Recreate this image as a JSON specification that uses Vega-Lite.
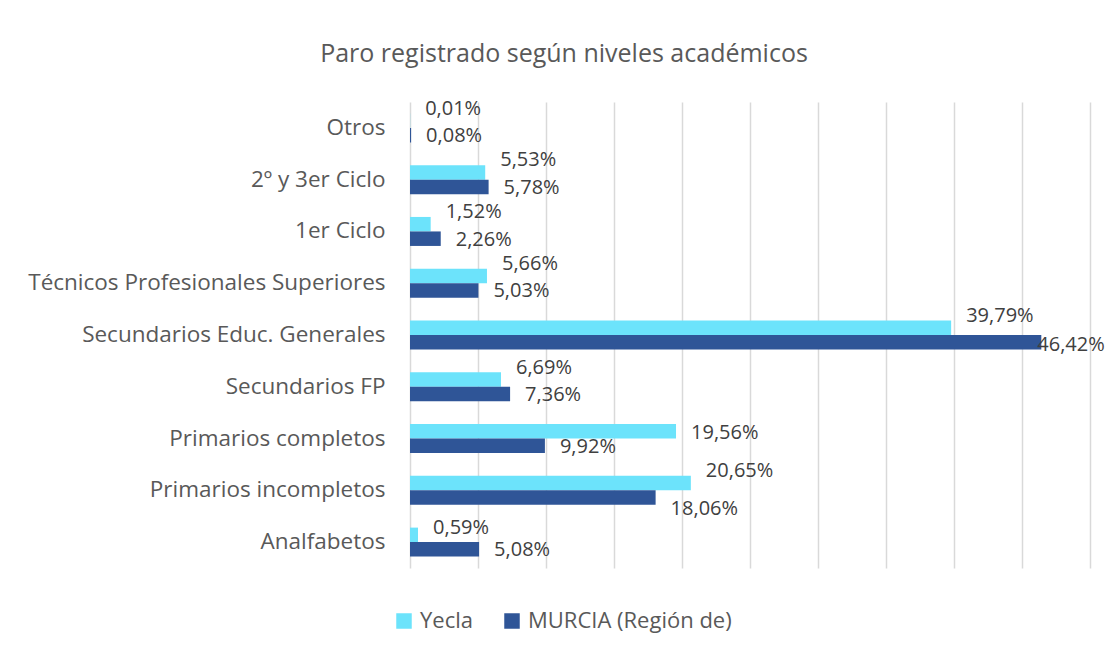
{
  "$schema": "https://vega.github.io/schema/vega-lite/v6.json",
  "width": 680,
  "height": 466,
  "autosize": {"type": "none"},
  "padding": {"left": 410, "top": 102, "right": 17, "bottom": 85},
  "background": "white",
  "config": {
    "locale": {"number": {"decimal": ",", "thousands": ".", "grouping": [3], "currency": ["", " €"]}},
    "font": "Open Sans",
    "view": {"stroke": null}
  },
  "title": {
    "text": "Paro registrado según niveles académicos",
    "fontSize": 25,
    "fontWeight": "normal",
    "color": "#595959",
    "font": "Open Sans",
    "anchor": "middle",
    "frame": "group",
    "dx": -186,
    "offset": 32
  },
  "data": {
    "values": [
      {"nivel": "Otros", "serie": "Yecla", "valor": 0.0001},
      {"nivel": "Otros", "serie": "MURCIA (Región de)", "valor": 0.0008},
      {"nivel": "2º y 3er Ciclo", "serie": "Yecla", "valor": 0.0553},
      {"nivel": "2º y 3er Ciclo", "serie": "MURCIA (Región de)", "valor": 0.0578},
      {"nivel": "1er Ciclo", "serie": "Yecla", "valor": 0.0152},
      {"nivel": "1er Ciclo", "serie": "MURCIA (Región de)", "valor": 0.0226},
      {"nivel": "Técnicos Profesionales Superiores", "serie": "Yecla", "valor": 0.0566},
      {"nivel": "Técnicos Profesionales Superiores", "serie": "MURCIA (Región de)", "valor": 0.0503},
      {"nivel": "Secundarios Educ. Generales", "serie": "Yecla", "valor": 0.3979},
      {"nivel": "Secundarios Educ. Generales", "serie": "MURCIA (Región de)", "valor": 0.4642},
      {"nivel": "Secundarios FP", "serie": "Yecla", "valor": 0.0669},
      {"nivel": "Secundarios FP", "serie": "MURCIA (Región de)", "valor": 0.0736},
      {"nivel": "Primarios completos", "serie": "Yecla", "valor": 0.1956},
      {"nivel": "Primarios completos", "serie": "MURCIA (Región de)", "valor": 0.0992},
      {"nivel": "Primarios incompletos", "serie": "Yecla", "valor": 0.2065},
      {"nivel": "Primarios incompletos", "serie": "MURCIA (Región de)", "valor": 0.1806},
      {"nivel": "Analfabetos", "serie": "Yecla", "valor": 0.0059},
      {"nivel": "Analfabetos", "serie": "MURCIA (Región de)", "valor": 0.0508}
    ]
  },
  "encoding": {
    "y": {
      "field": "nivel",
      "type": "nominal",
      "sort": ["Otros", "2º y 3er Ciclo", "1er Ciclo", "Técnicos Profesionales Superiores", "Secundarios Educ. Generales", "Secundarios FP", "Primarios completos", "Primarios incompletos", "Analfabetos"],
      "scale": {"paddingInner": 0.44, "paddingOuter": 0.22},
      "axis": {"title": null, "domain": false, "ticks": false, "grid": false, "labelPadding": 25, "labelFontSize": 22.5, "labelLimit": 0, "labelColor": "#595959", "labelFont": "Open Sans"}
    },
    "yOffset": {"field": "serie", "type": "nominal", "sort": ["Yecla", "MURCIA (Región de)"]},
    "x": {
      "field": "valor",
      "type": "quantitative",
      "scale": {"domain": [0, 0.5], "nice": false, "zero": true},
      "axis": {"title": null, "labels": false, "ticks": false, "domain": false, "values": [0, 0.05, 0.1, 0.15, 0.2, 0.25, 0.3, 0.35, 0.4, 0.45, 0.5], "gridColor": "#D9D9D9", "gridWidth": 1.5}
    }
  },
  "layer": [
    {
      "mark": {"type": "bar"},
      "encoding": {
        "color": {
          "field": "serie",
          "type": "nominal",
          "sort": ["Yecla", "MURCIA (Región de)"],
          "scale": {"domain": ["Yecla", "MURCIA (Región de)"], "range": ["#6CE3FB", "#2F5597"]},
          "legend": {
            "title": null,
            "orient": "none",
            "legendX": -17,
            "legendY": 508,
            "direction": "horizontal",
            "symbolType": "square",
            "symbolSize": 240,
            "symbolStrokeWidth": 0,
            "labelFontSize": 22,
            "labelLimit": 0,
            "labelColor": "#595959",
            "labelFont": "Open Sans",
            "columnPadding": 28,
            "labelOffset": 5
          }
        }
      }
    },
    {
      "transform": [{"filter": "datum.serie == 'Yecla' && datum.nivel != 'Primarios completos' && datum.nivel != 'Analfabetos'"}],
      "mark": {"type": "text", "align": "left", "baseline": "middle", "dx": 15, "dy": -12, "fontSize": 20, "color": "#404040", "font": "Open Sans"},
      "encoding": {"text": {"field": "valor", "type": "quantitative", "format": ".2%"}}
    },
    {
      "transform": [{"filter": "datum.serie == 'Yecla' && datum.nivel == 'Primarios completos'"}],
      "mark": {"type": "text", "align": "left", "baseline": "middle", "dx": 15, "dy": 2, "fontSize": 20, "color": "#404040", "font": "Open Sans"},
      "encoding": {"text": {"field": "valor", "type": "quantitative", "format": ".2%"}}
    },
    {
      "transform": [{"filter": "datum.serie == 'Yecla' && datum.nivel == 'Analfabetos'"}],
      "mark": {"type": "text", "align": "left", "baseline": "middle", "dx": 15, "dy": -7, "fontSize": 20, "color": "#404040", "font": "Open Sans"},
      "encoding": {"text": {"field": "valor", "type": "quantitative", "format": ".2%"}}
    },
    {
      "transform": [{"filter": "datum.serie != 'Yecla' && datum.nivel != 'Primarios incompletos' && datum.nivel != 'Secundarios Educ. Generales'"}],
      "mark": {"type": "text", "align": "left", "baseline": "middle", "dx": 15, "dy": 1, "fontSize": 20, "color": "#404040", "font": "Open Sans"},
      "encoding": {"text": {"field": "valor", "type": "quantitative", "format": ".2%"}}
    },
    {
      "transform": [{"filter": "datum.serie != 'Yecla' && datum.nivel == 'Primarios incompletos'"}],
      "mark": {"type": "text", "align": "left", "baseline": "middle", "dx": 15, "dy": 11, "fontSize": 20, "color": "#404040", "font": "Open Sans"},
      "encoding": {"text": {"field": "valor", "type": "quantitative", "format": ".2%"}}
    },
    {
      "transform": [{"filter": "datum.serie != 'Yecla' && datum.nivel == 'Secundarios Educ. Generales'"}],
      "mark": {"type": "text", "align": "left", "baseline": "middle", "dx": -4, "dy": 3, "fontSize": 20, "color": "#404040", "font": "Open Sans"},
      "encoding": {"text": {"field": "valor", "type": "quantitative", "format": ".2%"}}
    }
  ]
}
